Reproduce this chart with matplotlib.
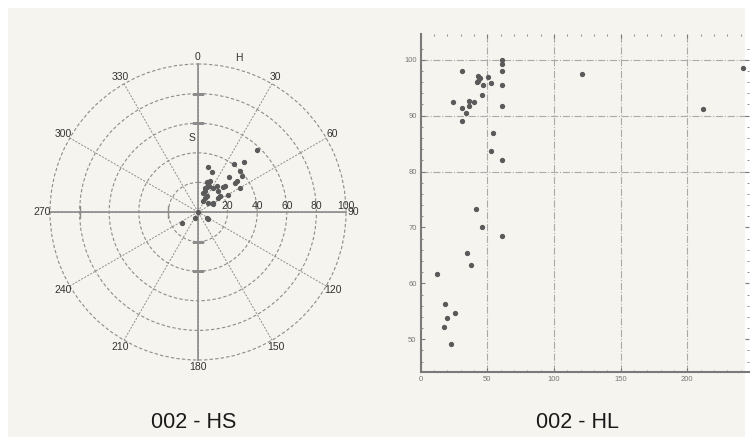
import numpy as np
import matplotlib.pyplot as plt
from matplotlib.patches import Rectangle

# polar chart (HS): hue angle in degrees, saturation radius
hs_angle = [43.6, 42.4, 37, 12.8, 18.8, 46, 40.9, 50.5, 51.3, 60, 20.4, 16, 24, 32,
            44, 45, 18, 15, 28.5, 54.8, 60.7, 25.7, 58.7, 0, 207.8, 236.7, 123, 125,
            51.6, 35.7, 46, 54, 48, 63, 15.4, 26, 21, 19]
hs_radius = [58, 46, 40.6, 31.5, 28.9, 39.6, 31.5, 38.5, 33.7, 33, 20, 21, 19, 19.5,
             19.9, 24.2, 15, 17, 12.4, 16.9, 23.6, 8.3, 12.2, 0, 4.4, 13.3, 7, 8.6,
             32, 21.7, 25.3, 18.4, 9.4, 11.6, 13.5, 10.8, 22.5, 18]

# scatter chart (HL)
hl_x = [30.8, 60.8, 60.8, 60.8, 60.8, 60.8, 42.7, 44.5, 42.2, 43.2, 47.0, 50.7, 52.7,
        45.7, 40.2, 36.5, 36.5, 24.5, 30.8, 34.0, 30.8, 54.5, 52.7, 60.8, 41.5, 121.2,
        242.0, 211.5, 45.7, 60.8, 35.0, 37.5, 12.5, 18.2, 25.7, 19.5, 17.5, 22.5]
hl_y = [98.0, 99.9, 99.3, 98.0, 95.5, 91.8, 97.0, 96.7, 96.0, 96.2, 95.5, 96.9, 95.8,
        93.7, 92.5, 92.6, 91.8, 92.4, 91.4, 90.5, 89.1, 86.9, 83.6, 82.0, 73.3, 97.4,
        98.6, 91.1, 70.1, 68.5, 65.4, 63.3, 61.7, 56.3, 54.7, 53.8, 52.2, 49.1]

rings = [20, 40, 60, 80, 100]
spokes = list(range(0, 360, 30))
x_ticks = [0, 50, 100, 150, 200]
y_ticks = [50, 60, 70, 80, 90, 100]
h_grid = [80, 90, 100]
v_grid = [50, 100, 150, 200]

bg = '#f6f4ee'
line_c = '#8c8c8c'
dot_c = '#5a5a5a'
plt.rcParams['font.family'] = ['Liberation Sans', 'DejaVu Sans']

fig = plt.figure(figsize=(7.53, 4.45), dpi=100, facecolor='white')
fig.patches.append(Rectangle((8 / 753, 8 / 445), 737 / 753, 429 / 445,
                             transform=fig.transFigure, facecolor=bg,
                             edgecolor='none', zorder=-10))

# ---- polar HS ----
rr = 148 * 1.02
ax = fig.add_axes([(198 - rr) / 753, 1 - (212 + rr) / 445, 2 * rr / 753, 2 * rr / 445],
                  projection='polar')
ax.set_facecolor('none')
ax.set_theta_zero_location('N')
ax.set_theta_direction(-1)
ax.set_rlim(0, 102)
ax.spines['polar'].set_visible(False)
ax.set_rgrids(rings, labels=[])
ax.set_thetagrids(spokes, labels=[])
ax.yaxis.grid(True, color=line_c, ls=(0, (3, 2)), lw=0.8)
ax.xaxis.grid(False)
for a in spokes:
    ax.plot([np.radians(a)] * 2, [0, 100], color=line_c, ls=(0, (2, 1.5)), lw=0.7)
for a in [0, 90, 180, 270]:
    ax.plot([np.radians(a)] * 2, [0, 100], color=line_c, lw=1.2, zorder=2)
# small ticks on the cross lines
ax.plot(np.radians([0, 0, 180, 180]), [60, 80, 20, 40], ls='none', marker='_',
        ms=9, mew=1.0, color=line_c)
ax.plot(np.radians([270, 270]), [20, 80], ls='none', marker='|',
        ms=9, mew=1.0, color=line_c)

for a in spokes:
    ax.text(np.radians(a), 105, str(a), ha='center', va='center',
            fontsize=7.5, color='#333333')
for r in rings:
    ax.annotate(str(r), (np.pi / 2, r), xytext=(0, 1), textcoords='offset points',
                ha='center', va='bottom', fontsize=7.5, color='#333333')
ax.text(0.635, 1.01, 'H', transform=ax.transAxes, ha='center', va='center',
        fontsize=7.5, color='#333333')
ax.text(0.48, 0.745, 'S', transform=ax.transAxes, ha='center', va='center',
        fontsize=7.5, color='#333333')

ax.plot(np.radians(hs_angle), hs_radius, ls='none', marker='o', ms=2.8,
        color=dot_c, zorder=3)

# ---- scatter HL ----
bx = fig.add_axes([420.7 / 753, 1 - 372.3 / 445, 328.5 / 753, 338.3 / 445])
bx.set_facecolor('none')
bx.set_xlim(0, 246.5)
bx.set_ylim(44.1, 104.6)
for s in ['top', 'right']:
    bx.spines[s].set_visible(False)
for s in ['left', 'bottom']:
    bx.spines[s].set_color('#7a7a7a')
    bx.spines[s].set_linewidth(1.5)
bx.set_xticks(x_ticks)
bx.set_yticks(y_ticks)
bx.set_xticks(np.arange(0, 247, 10), minor=True)
bx.set_yticks(np.arange(46, 104, 2), minor=True)
bx.tick_params(which='both', direction='in', colors='#7a7a7a', labelcolor='#777777',
               labelsize=5.5, top=True, right=True)
bx.tick_params(which='major', length=3, pad=3)
bx.tick_params(which='minor', length=1.5)
for g in v_grid:
    bx.axvline(g, color='#aaaaaa', ls='-.', lw=0.8, zorder=0)
for g in h_grid:
    bx.axhline(g, color='#aaaaaa', ls='-.', lw=0.8, zorder=0)
bx.plot(hl_x, hl_y, ls='none', marker='o', ms=2.8, color=dot_c, clip_on=False)

fig.text(194 / 753, 1 - 423 / 445, '002 - HS', ha='center', va='center', fontsize=15.5,
         color='#1a1a1a')
fig.text(578 / 753, 1 - 423 / 445, '002 - HL', ha='center', va='center', fontsize=15.5,
         color='#1a1a1a')

fig.savefig('out.png', dpi=100, facecolor='white')
